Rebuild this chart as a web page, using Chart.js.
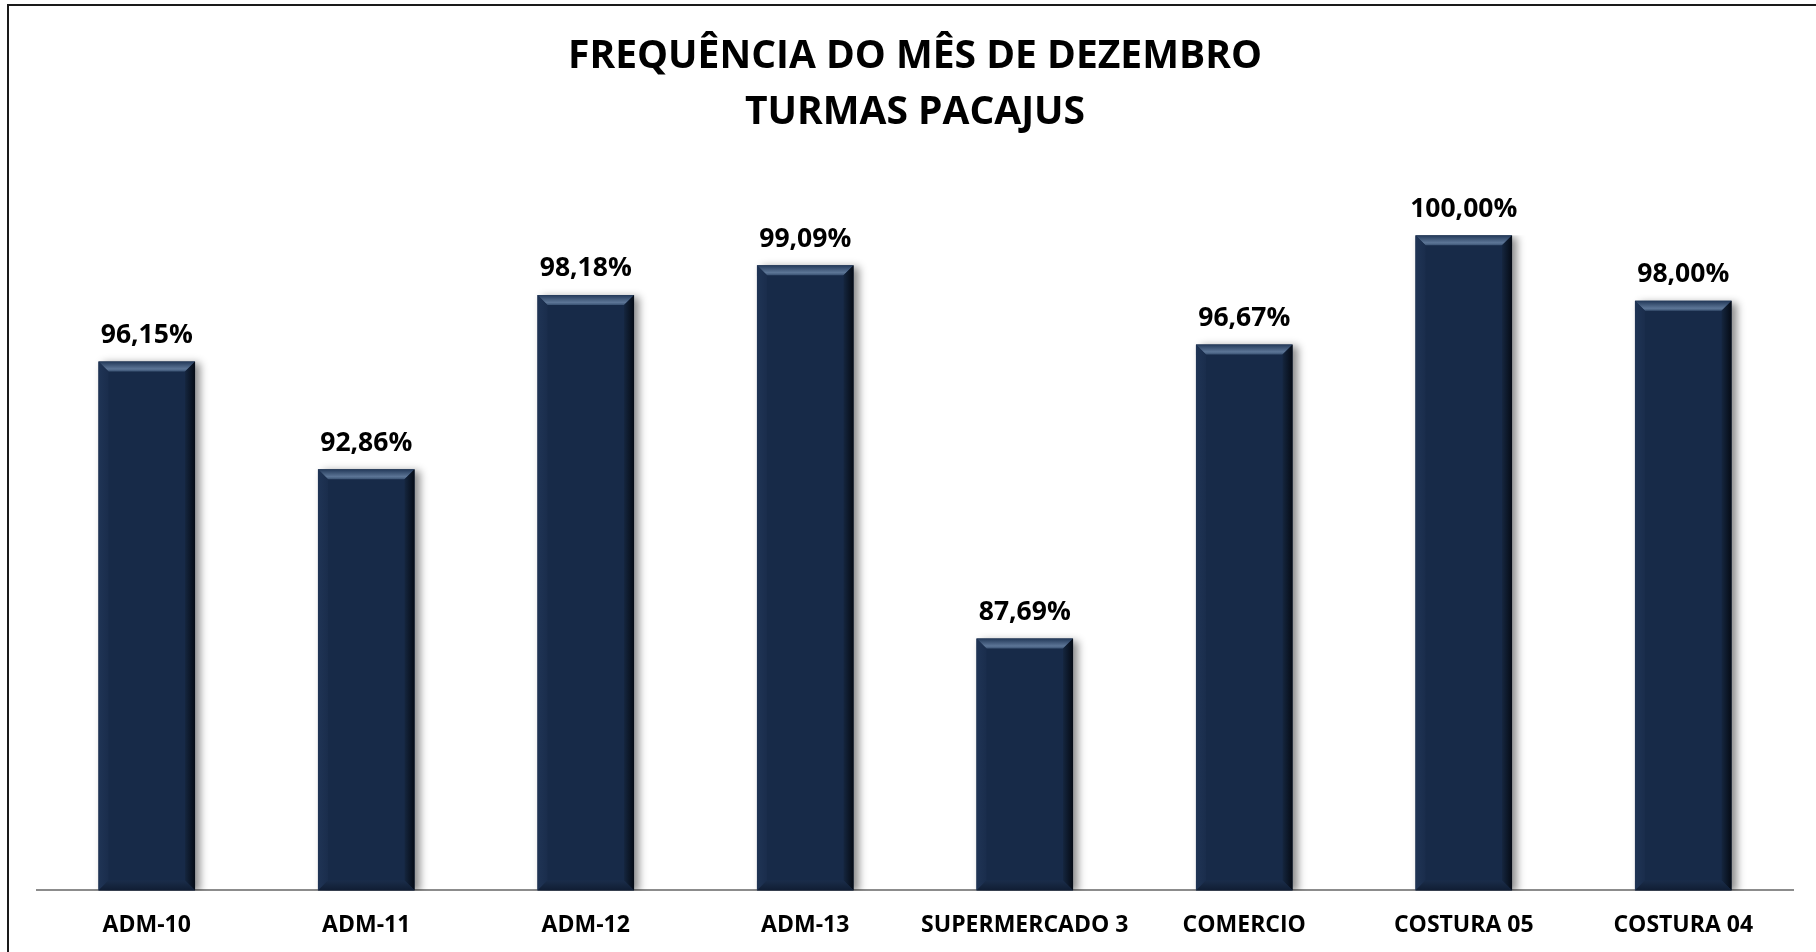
<!DOCTYPE html>
<html>
<head>
<meta charset="utf-8">
<script src="https://cdn.jsdelivr.net/npm/chart.js@4.4.0/dist/chart.umd.min.js"></script>
<style>
    html, body { margin: 0; padding: 0; background: #ffffff; }
    #wrap { position: relative; width: 1816px; height: 952px; overflow: hidden; }
    #frame { position: absolute; left: 7px; top: 4px; width: 1900px; height: 1000px;
             border-top: 2px solid #1a1a1a; border-left: 2px solid #1a1a1a; }
    #graph { position: absolute; left: 0; top: 0; }
</style>
</head>
<body>
<div id="wrap">
    <div id="frame"></div>
    <canvas id="graph" width="1816" height="952"></canvas>
</div>
<script>
// donnees
var turmas = ['ADM-10', 'ADM-11', 'ADM-12', 'ADM-13', 'SUPERMERCADO 3', 'COMERCIO', 'COSTURA 05', 'COSTURA 04'];
var frequencia = [96.15, 92.86, 98.18, 99.09, 87.69, 96.67, 100.00, 98.00];
var titulo = ['FREQUÊNCIA DO MÊS DE DEZEMBRO', 'TURMAS PACAJUS'];

var fonte = "'Open Sans', 'DejaVu Sans', sans-serif";

window.onload = ()=>{

    // ombre a droite des barres
    var ombre = {
        id: 'ombre',
        beforeDatasetDraw(chart) {
            var ctx = chart.ctx;
            ctx.save();
            ctx.shadowColor = 'rgba(0,0,0,0.45)';
            ctx.shadowBlur = 8;
            ctx.shadowOffsetX = 5;
            ctx.shadowOffsetY = 2;
        },
        afterDatasetDraw(chart) {
            chart.ctx.restore();
        }
    };

    // biseau + etiquettes
    var biseau = {
        id: 'biseau',
        afterDatasetsDraw(chart) {
            var ctx = chart.ctx;
            var meta = chart.getDatasetMeta(0);
            var b = 10;
            meta.data.forEach((bar, i) => {
                var p = bar.getProps(['x', 'y', 'base', 'width'], true);
                var l = p.x - p.width / 2, r = p.x + p.width / 2, t = p.y, bo = p.base;

                ctx.save();
                // haut
                var g = ctx.createLinearGradient(0, t, 0, t + b);
                g.addColorStop(0, '#223858');
                g.addColorStop(0.75, '#5d7697');
                g.addColorStop(1, '#3b5373');
                ctx.fillStyle = g;
                ctx.beginPath();
                ctx.moveTo(l, t); ctx.lineTo(r, t); ctx.lineTo(r - b, t + b); ctx.lineTo(l + b, t + b);
                ctx.closePath(); ctx.fill();

                // gauche
                g = ctx.createLinearGradient(l, 0, l + b, 0);
                g.addColorStop(0, '#1f3455');
                g.addColorStop(1, '#1a2d4c');
                ctx.fillStyle = g;
                ctx.beginPath();
                ctx.moveTo(l, t); ctx.lineTo(l + b, t + b); ctx.lineTo(l + b, bo - b); ctx.lineTo(l, bo);
                ctx.closePath(); ctx.fill();

                // droite
                g = ctx.createLinearGradient(r - b, 0, r, 0);
                g.addColorStop(0, '#15263f');
                g.addColorStop(1, '#050b15');
                ctx.fillStyle = g;
                ctx.beginPath();
                ctx.moveTo(r, t); ctx.lineTo(r, bo); ctx.lineTo(r - b, bo - b); ctx.lineTo(r - b, t + b);
                ctx.closePath(); ctx.fill();

                // bas
                g = ctx.createLinearGradient(0, bo - b, 0, bo);
                g.addColorStop(0, '#1a2d4a');
                g.addColorStop(1, '#101d33');
                ctx.fillStyle = g;
                ctx.beginPath();
                ctx.moveTo(l, bo); ctx.lineTo(l + b, bo - b); ctx.lineTo(r - b, bo - b); ctx.lineTo(r, bo);
                ctx.closePath(); ctx.fill();

                // etiquette
                ctx.fillStyle = '#000000';
                ctx.font = 'bold 26.5px ' + fonte;
                ctx.textAlign = 'center';
                ctx.textBaseline = 'middle';
                ctx.fillText(frequencia[i].toFixed(2).replace('.', ',') + '%', p.x, t - 26);
                ctx.restore();
            });
        }
    };

    var chart = new Chart('graph', {
        type: 'bar',
        data: {
            labels: turmas,
            datasets: [{
                data: frequencia,
                base: 80,
                backgroundColor: '#172a48',
                borderWidth: 0,
                barPercentage: 0.88,
                categoryPercentage: 0.5
            }]
        },
        options: {
            responsive: false,
            animation: false,
            layout: { padding: { left: 37, right: 23, top: 0, bottom: -8 } },
            plugins: {
                legend: { display: false },
                tooltip: { enabled: false },
                title: {
                    display: true,
                    text: titulo,
                    color: '#000000',
                    font: { family: fonte, size: 39, weight: 'bold', lineHeight: 1.44 },
                    padding: { top: 29, bottom: 94 }
                }
            },
            scales: {
                x: {
                    grid: { display: false, drawTicks: false },
                    border: { display: true, color: '#8c8c8c', width: 2 },
                    ticks: {
                        color: '#000000',
                        font: { family: fonte, size: 23, weight: 'bold' },
                        padding: 21,
                        autoSkip: false,
                        maxRotation: 0
                    }
                },
                y: {
                    display: false,
                    min: 80,
                    max: 100
                }
            }
        },
        plugins: [ombre, biseau]
    });
}
</script>
</body>
</html>
